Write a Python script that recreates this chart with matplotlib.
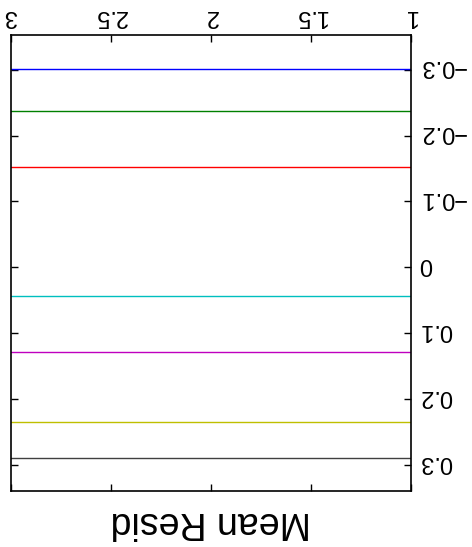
import matplotlib
matplotlib.use("Agg")
import matplotlib.pyplot as plt
from matplotlib.transforms import ScaledTranslation

plt.rcParams['font.family'] = ['Liberation Sans', 'DejaVu Sans']

# Data: horizontal lines (mean residuals)
line_values = [-0.301, -0.237, -0.152, 0.0436, 0.128, 0.2347, 0.289]
line_colors = ['#0000ff', '#008000', '#ff0000', '#00bfbf', '#bf00bf', '#bfbf00', '#404040']
x_range = [1, 3]
x_ticks = [1, 1.5, 2, 2.5, 3]
x_ticklabels = ['1', '1.5', '2', '2.5', '3']
y_ticks = [-0.3, -0.2, -0.1, 0, 0.1, 0.2, 0.3]
y_ticklabels = ['\u22120.3', '\u22120.2', '\u22120.1', '0', '0.1', '0.2', '0.3']
y_limits = (0.3394, -0.3525)
label_text = 'Mean Resid'

W, H = 472, 547
fig = plt.figure(figsize=(W / 100, H / 100), dpi=100)
ax = fig.add_axes([11 / W, (H - 491) / H, 400 / W, 456 / H])

for v, c in zip(line_values, line_colors):
    ax.plot(x_range, [v, v], color=c, linewidth=1.0)

ax.set_xlim(3, 1)
ax.set_ylim(*y_limits)
ax.set_xticks(x_ticks)
ax.set_xticklabels(x_ticklabels)
ax.set_yticks(y_ticks)
ax.set_yticklabels(y_ticklabels)

ax.xaxis.tick_top()
ax.yaxis.tick_right()
ax.tick_params(axis='both', which='both', direction='in', length=5, width=1,
               top=True, bottom=True, left=True, right=True,
               labeltop=True, labelbottom=False, labelright=True, labelleft=False,
               labelsize=17, labelrotation=180, pad=6)
shift = ScaledTranslation(0, 0.035, fig.dpi_scale_trans)
for t in ax.get_yticklabels():
    t.set_verticalalignment('center')
    t.set_transform(t.get_transform() + shift)
for s in ax.spines.values():
    s.set_linewidth(1.2)

fig.text(211 / W, 1 - 522 / H, label_text, rotation=180, ha='center', va='center', fontsize=27)

fig.savefig('out.png', dpi=100)
